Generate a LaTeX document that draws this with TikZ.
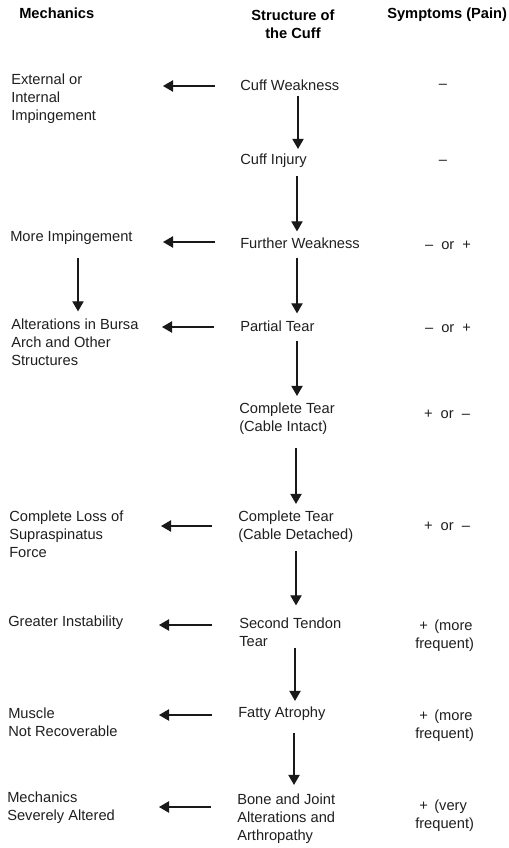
\documentclass[tikz,border=0pt]{standalone}
\usepackage{fontspec}
\setmainfont{Liberation Sans}
\usetikzlibrary{arrows.meta,calc}
\begin{document}
\begin{tikzpicture}[x=0.75pt,y=-0.75pt,
  txt/.style={inner sep=0pt,anchor=west,align=left,text=black!88,font=\fontsize{11}{13.5}\selectfont},
  hdr/.style={inner sep=0pt,text=black,font=\fontsize{11}{13.5}\selectfont\bfseries},
  sym/.style={inner sep=0pt,text=black!88,font=\fontsize{11}{13.5}\selectfont},
  arr/.style={line width=0.8pt,draw=black!90,-{Triangle[width=8.5pt,length=7.5pt]}}]
\useasboundingbox (0,0) rectangle (508,848);
% headers
\node[hdr,anchor=west] (h1) at (19,13) {Mechanics};
\node[hdr,align=center] (h2) at (293,24) {Structure of\\the Cuff};
\node[hdr,anchor=west] (h3) at (387,15) {Symptoms (Pain)};
% mechanics column
\node[txt] (m1) at (11,99) {External or\\Internal\\Impingement};
\node[txt] (m3) at (10,238) {More Impingement};
\node[txt] (m4) at (11,342) {Alterations in Bursa\\Arch and Other\\Structures};
\node[txt] (m6) at (9,534) {Complete Loss of\\Supraspinatus\\Force};
\node[txt] (m7) at (8,623) {Greater Instability};
\node[txt] (m8) at (8,722) {Muscle\\Not Recoverable};
\node[txt] (m9) at (7,808) {Mechanics\\Severely Altered};
% structure column
\node[txt] (s1) at (240,85) {Cuff Weakness};
\node[txt] (s2) at (240,161) {Cuff Injury};
\node[txt] (s3) at (240,243) {Further Weakness};
\node[txt] (s4) at (240,326) {Partial Tear};
\node[txt] (s5) at (239,419) {Complete Tear\\(Cable Intact)};
\node[txt] (s6) at (238,527) {Complete Tear\\(Cable Detached)};
\node[txt] (s7) at (239,632) {Second Tendon\\Tear};
\node[txt] (s8) at (238,714) {Fatty Atrophy};
\node[txt] (s9) at (237,819) {Bone and Joint\\Alterations and\\Arthropathy};
% symptoms column
\node[sym] (p1) at (443,86) {–};
\node[sym] (p2) at (443,162) {–};
\node[sym] (p3) at (448,245) {–\hspace{3pt} or\hspace{3pt} +};
\node[sym] (p4) at (448,328) {–\hspace{3pt} or\hspace{3pt} +};
\node[sym] (p5) at (447,414) {+\hspace{3pt} or\hspace{3pt} –};
\node[sym] (p6) at (447,526) {+\hspace{3pt} or\hspace{3pt} –};
\node[txt] (p7) at (415,635.5) {\hspace{3pt}+ \,(more\\frequent)};
\node[txt] (p8) at (415,725.5) {\hspace{3pt}+ \,(more\\frequent)};
\node[txt] (p9) at (415,815.5) {\hspace{3pt}+ \,(very\\frequent)};
% spine coordinates
\coordinate (k1) at (298,0);
\coordinate (k2) at (297,0);
\coordinate (k5) at (296,0);
\coordinate (k7) at (295,0);
\coordinate (k8) at (294,0);
\coordinate (kl) at (78,0);
% vertical arrows
\draw[arr] ($(s1.south -| k1)+(0,5)$) -- ($(s2.north -| k1)+(0,-5)$);
\draw[arr] ($(s2.south -| k2)+(0,8)$) -- ($(s3.north -| k2)+(0,-6)$);
\draw[arr] ($(s3.south -| k2)+(0,9)$) -- ($(s4.north -| k2)+(0,-7)$);
\draw[arr] ($(s4.south -| k2)+(0,9)$) -- ($(s5.north -| k2)+(0,-7)$);
\draw[arr] ($(s5.south -| k5)+(0,13)$) -- ($(s6.north -| k5)+(0,-7)$);
\draw[arr] ($(s6.south -| k5)+(0,8)$) -- ($(s7.north -| k5)+(0,-12)$);
\draw[arr] ($(s7.south -| k7)+(0,1)$) -- ($(s8.north -| k7)+(0,-6)$);
\draw[arr] ($(s8.south -| k8)+(0,12)$) -- ($(s9.north -| k8)+(0,-9)$);
\draw[arr] ($(m3.south -| kl)+(0,13)$) -- ($(m4.north -| kl)+(0,-7)$);
% horizontal arrows
\draw[arr] ($(s1.west)+(-25,1)$) -- ++(-52,0);
\draw[arr] ($(s3.west)+(-25,-1)$) -- ++(-52,0);
\draw[arr] ($(s4.west)+(-26,1)$) -- ++(-52,0);
\draw[arr] ($(s6.west)+(-26,-1)$) -- ++(-51,0);
\draw[arr] ($(s7.west)+(-27,-7)$) -- ++(-53,0);
\draw[arr] ($(s8.west)+(-26,1)$) -- ++(-53,0);
\draw[arr] ($(s9.west)+(-26,-12)$) -- ++(-52,0);
\end{tikzpicture}
\end{document}
